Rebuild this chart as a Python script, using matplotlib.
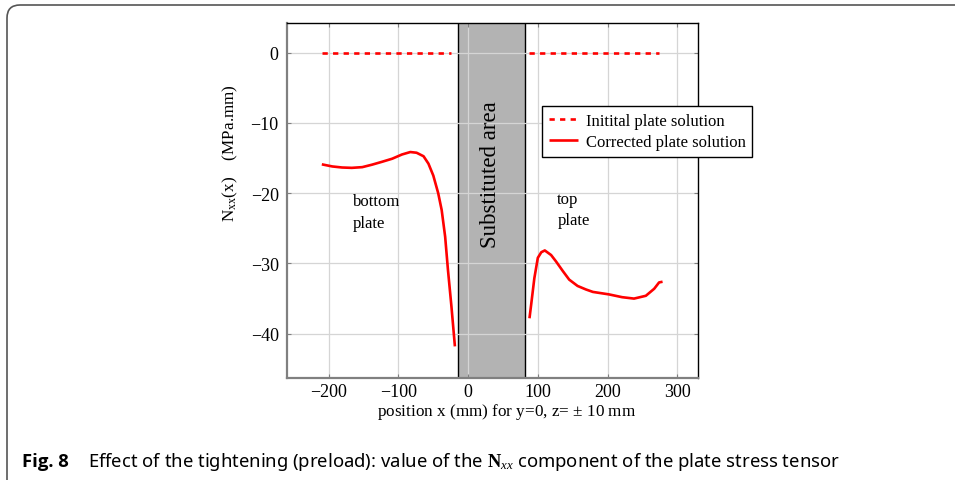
import matplotlib
matplotlib.use("Agg")
import matplotlib.pyplot as plt
from matplotlib.patches import FancyBboxPatch, Rectangle
from matplotlib.transforms import IdentityTransform
import numpy as np

# Data
initial_bottom_x = [-210, -25]
initial_bottom_y = [0, 0]
initial_top_x = [88, 274]
initial_top_y = [0, 0]

bottom_x = [-210, -195, -181, -167, -152, -138, -124, -109, -95, -83,
            -74, -64, -57, -50, -43, -38, -33, -29, -24, -19]
bottom_y = [-15.9, -16.2, -16.35, -16.4, -16.3, -15.95, -15.55, -15.1, -14.5, -14.15,
            -14.25, -14.75, -15.8, -17.5, -20.0, -22.4, -26.2, -30.9, -36.1, -41.8]

top_x = [88, 90.5, 95, 100, 105, 110, 119, 126, 136, 145,
         157, 169, 179, 202, 221, 238, 255, 267, 274, 279]
top_y = [-37.8, -35.8, -32.1, -29.2, -28.4, -28.15, -28.8, -29.7, -31.1, -32.3,
         -33.2, -33.7, -34.05, -34.4, -34.8, -35.0, -34.6, -33.6, -32.7, -32.6]

substituted = [-15, 82]   # x range of the grey zone
xticks = [-200, -100, 0, 100, 200, 300]
yticks = [0, -10, -20, -30, -40]

plt.rcParams['font.family'] = ['Liberation Serif', 'DejaVu Serif']
plt.rcParams['mathtext.fontset'] = 'custom'
plt.rcParams['mathtext.rm'] = 'Liberation Serif'
plt.rcParams['mathtext.it'] = 'Liberation Serif:italic'
plt.rcParams['mathtext.bf'] = 'Liberation Serif:bold'

fig = plt.figure(figsize=(9.55, 4.81), dpi=100)
ax = fig.add_axes([0.3005, 0.212, 0.4305, 0.738])

# outer journal frame
frame = FancyBboxPatch((7, -60), 1000, 535, boxstyle='round,pad=0,rounding_size=13',
                       transform=IdentityTransform(), facecolor='none',
                       edgecolor='#555555', linewidth=1.2)
fig.patches.append(frame)

red = '#ff0000'
ax.add_patch(Rectangle((substituted[0], -60), substituted[1] - substituted[0], 80,
                       facecolor='#b3b3b3', edgecolor='black', linewidth=1.0, zorder=1))
ax.plot(initial_bottom_x, initial_bottom_y, color=red, lw=1.9, dashes=(2, 2),
        label='Initital plate solution', zorder=3)
ax.plot(initial_top_x, initial_top_y, color=red, lw=1.9, dashes=(2, 2), zorder=3)
ax.plot(bottom_x, bottom_y, color=red, lw=1.9, solid_joinstyle='round',
        solid_capstyle='butt', label='Corrected plate solution', zorder=3)
ax.plot(top_x, top_y, color=red, lw=1.9, solid_joinstyle='round',
        solid_capstyle='butt', zorder=3)

ax.set_xlim(-260, 330)
ax.set_ylim(-46.3, 4.2)
ax.set_xticks(xticks)
ax.set_yticks(yticks)
ax.set_axisbelow('line')
ax.grid(True, color='#d5d5d5', linewidth=0.9)

for side in ['left', 'bottom']:
    ax.spines[side].set_color('#808080')
    ax.spines[side].set_linewidth(1.6)
for side in ['top', 'right']:
    ax.spines[side].set_color('black')
    ax.spines[side].set_linewidth(1.0)
ax.tick_params(direction='in', length=3, color='#808080', labelsize=13,
               top=True, right=True, pad=6)
ax.tick_params(axis='x', pad=3.5)

ax.text(32, -17.2, 'Substituted area', rotation=90, ha='center', va='center',
        fontsize=16.5, zorder=4)
ax.text(-165, -22.7, 'bottom\nplate', ha='left', va='center', fontsize=12,
        linespacing=1.45)
ax.text(128, -22.3, 'top\nplate', ha='left', va='center', fontsize=12,
        linespacing=1.45)

ax.set_xlabel(r'position x (mm) for y=0, z= $\pm$ 10 mm', fontsize=12.3)
ax.xaxis.set_label_coords(0.535, -0.064)
ax.set_ylabel(r'$\mathrm{N}_{\mathrm{xx}}(\mathrm{x})$    (MPa.mm)', fontsize=12.3)
ax.yaxis.set_label_coords(-0.114, 0.637)

leg = ax.legend(loc='upper left', bbox_to_anchor=(0.62, 0.766), borderaxespad=0,
                fontsize=12, fancybox=False, framealpha=1, edgecolor='black',
                handlelength=1.75, handletextpad=0.45, borderpad=0.42,
                labelspacing=0.3)
leg.get_frame().set_linewidth(1.0)

fig.text(0.023, 0.04, 'Fig. 8', fontsize=13.3, fontweight='bold',
         family=['Open Sans', 'DejaVu Sans'], va='center')
fig.text(0.092, 0.04,
         r'Effect of the tightening (preload): value of the $\mathbf{N}_{xx}$ component of the plate stress tensor',
         fontsize=13.3, family=['Noto Sans', 'DejaVu Sans'], va='center')

fig.savefig('out.png', dpi=100)
